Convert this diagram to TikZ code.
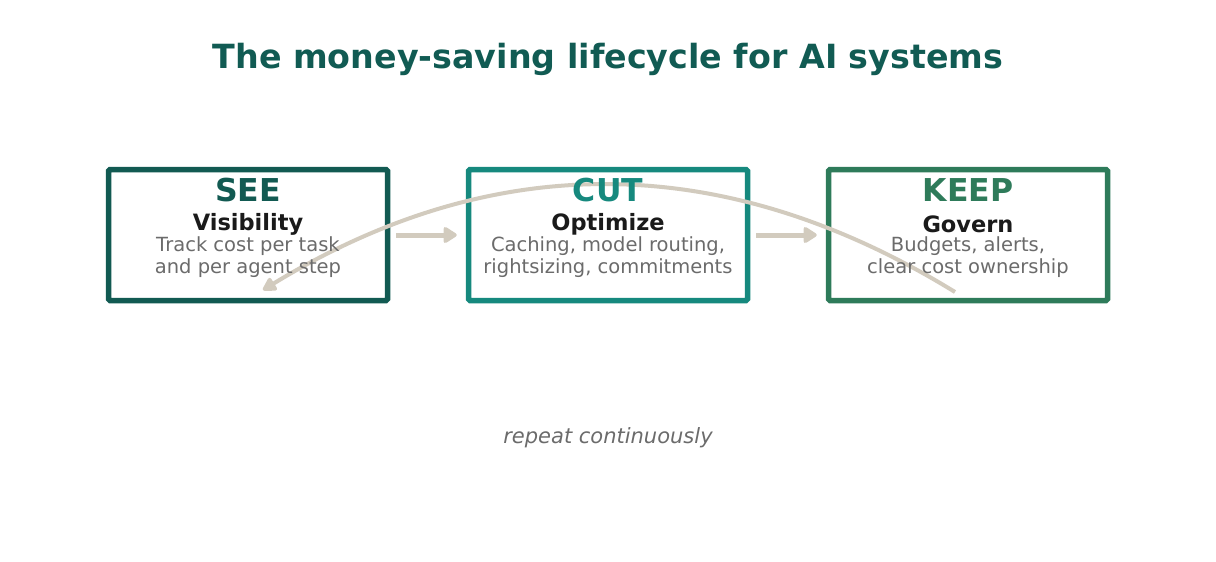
\documentclass[tikz,border=0pt]{standalone}
\usepackage{fontspec}
\setmainfont{DejaVu Sans}
\usetikzlibrary{arrows.meta, positioning}

\definecolor{titlecol}{HTML}{115B53}
\definecolor{seecol}{HTML}{125A52}
\definecolor{cutcol}{HTML}{16897E}
\definecolor{keepcol}{HTML}{2E7B5A}
\definecolor{flowcol}{HTML}{D2CBBE}
\definecolor{bodycol}{HTML}{6B6B6B}
\definecolor{subcol}{HTML}{1A1A1A}

\begin{document}
\begin{tikzpicture}[
  x=1pt, y=-1pt,
  stage/.style={
    rectangle, draw, fill=white, line width=5.5pt,
    rounded corners=1.5pt,
    minimum width=279pt, minimum height=131pt
  },
  head/.style={font=\bfseries\fontsize{31.5}{33}\selectfont},
  sub/.style={font=\bfseries\fontsize{22.5}{24}\selectfont, text=subcol},
  body/.style={font=\fontsize{19.5}{22}\selectfont, text=bodycol, align=center},
  flow/.style={
    draw=flowcol, line width=5pt,
    -{Triangle[length=15pt, width=18pt, round]}
  },
  loop/.style={
    draw=flowcol, line width=4pt,
    -{Triangle[length=15pt, width=16pt, round]}
  },
]

  \useasboundingbox (0,0) rectangle (1216,562);

  % -------------------------------------------------------
  %  Title
  % -------------------------------------------------------
  \node[font=\bfseries\fontsize{33.3}{36}\selectfont, text=titlecol]
    (title) at (608, 59) {The money-saving lifecycle for AI systems};

  % -------------------------------------------------------
  %  Stages
  % -------------------------------------------------------
  \node[stage, draw=seecol]  (see)  at (248, 235) {};
  \node[stage, draw=cutcol]  (cut)  at (608, 235) {};
  \node[stage, draw=keepcol] (keep) at (968, 235) {};

  % -------------------------------------------------------
  %  Loop back (keep -> see)
  % -------------------------------------------------------
  \coordinate (loopstart) at (955, 292);
  \coordinate (loopend)   at (263, 290);
  \draw[loop] (loopstart) .. controls (724, 150) and (494, 149) .. (loopend);

  % -------------------------------------------------------
  %  Stage texts
  % -------------------------------------------------------
  \node[head, text=seecol]  (seehead)  at (248, 190) {SEE};
  \node[sub]  (seesub)  at (248, 224) {Visibility};
  \node[body] (seebody) at (248, 257) {Track cost per task\\and per agent step};

  \node[head, text=cutcol]  (cuthead)  at (608, 190) {CUT};
  \node[sub]  (cutsub)  at (608, 224) {Optimize};
  \node[body] (cutbody) at (608, 257) {Caching, model routing,\\rightsizing, commitments};

  \node[head, text=keepcol] (keephead) at (968, 190) {KEEP};
  \node[sub]  (keepsub)  at (968, 224) {Govern};
  \node[body] (keepbody) at (968, 257) {Budgets, alerts,\\clear cost ownership};

  % -------------------------------------------------------
  %  Forward steps
  % -------------------------------------------------------
  \draw[flow, shorten <=6pt, shorten >=9pt] (see) -- (cut);
  \draw[flow, shorten <=6pt, shorten >=9pt] (cut) -- (keep);

  \node[font=\itshape\fontsize{21}{23}\selectfont, text=bodycol]
    (repeat) at (608, 438) {repeat continuously};

\end{tikzpicture}
\end{document}
